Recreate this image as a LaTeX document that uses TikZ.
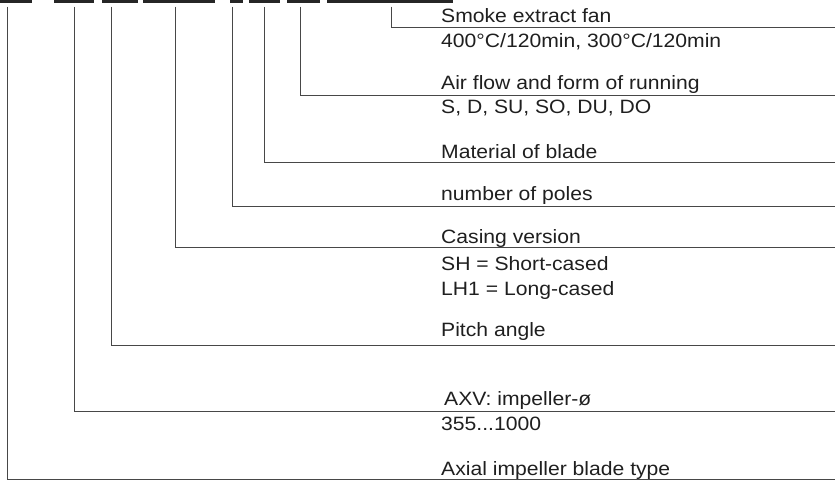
\documentclass[tikz,border=0pt]{standalone}
\usepackage{fontspec}
\setmainfont{Liberation Sans}[FakeStretch=1.095]
\begin{document}
\begin{tikzpicture}[x=1pt,y=-1pt,
  lbl/.style={anchor=base west,inner sep=0pt,text=black!88,font=\fontsize{19.3}{25}\selectfont},
  bar/.style={draw=black!85,line width=2.6pt},
  conn/.style={draw=black!72,line width=1pt}]
\useasboundingbox (0,0) rectangle (835,480);
% top code bars
\foreach \a/\b [count=\i] in {0/32,54/94,102/138,143/215,230/243,249/280,287/320,327/453}
  {\coordinate (s\i) at (\a,1.3); \coordinate (t\i) at (\b,1.3); \draw[bar] (s\i) -- (t\i);}
% connector start points
\coordinate (v1) at (7.5,6.7);
\coordinate (v2) at (74.7,6.7);
\coordinate (v3) at (111.7,6.7);
\coordinate (v4) at (175,6.7);
\coordinate (v5) at (232.3,6.7);
\coordinate (v6) at (264.3,6.7);
\coordinate (v7) at (300.7,6.7);
\coordinate (v8) at (391.5,6.7);
% connector end points (right edge)
\coordinate (e8) at (835,27.6);
\coordinate (e7) at (835,95.4);
\coordinate (e6) at (835,162.3);
\coordinate (e5) at (835,206.7);
\coordinate (e4) at (835,247.5);
\coordinate (e3) at (835,345.2);
\coordinate (e2) at (835,411.2);
\coordinate (e1) at (835,479.2);
\foreach \i in {1,...,8} \draw[conn] (v\i) |- (e\i);
% labels
\node[lbl] (l8a) at (441,22.5) {Smoke extract fan};
\node[lbl] (l8b) at (441,47.5) {400°C/120min, 300°C/120min};
\node[lbl] (l7a) at (441,89) {Air flow and form of running};
\node[lbl] (l7b) at (441,113.5) {S, D, SU, SO, DU, DO};
\node[lbl] (l6) at (441,158.3) {Material of blade};
\node[lbl] (l5) at (441,200) {number of poles};
\node[lbl] (l4a) at (441,243.3) {Casing version};
\node[lbl] (l4b) at (441,270) {SH = Short-cased};
\node[lbl] (l4c) at (441,295) {LH1 = Long-cased};
\node[lbl] (l3) at (441,336.7) {Pitch angle};
\node[lbl] (l2a) at (444,405) {AXV: impeller-ø};
\node[lbl] (l2b) at (441,430) {355...1000};
\node[lbl] (l1) at (441,475) {Axial impeller blade type};
\end{tikzpicture}
\end{document}
